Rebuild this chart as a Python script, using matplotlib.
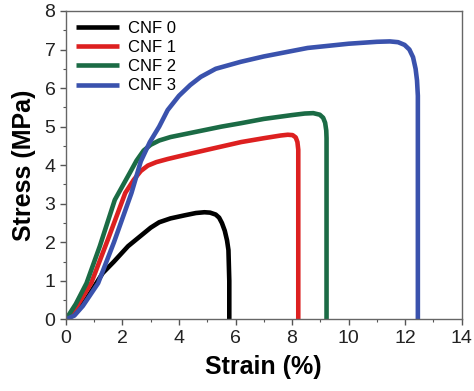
import matplotlib
matplotlib.use('Agg')
import matplotlib.pyplot as plt
from matplotlib.ticker import MultipleLocator

# Stress-strain curves
cnf0_strain = [0, 0.3, 0.7, 1.0, 1.3, 1.7, 2.2, 2.7, 3.0, 3.3, 3.7, 4.2, 4.6, 4.9, 5.1, 5.3, 5.42, 5.52, 5.62, 5.7, 5.75, 5.78, 5.78]
cnf0_stress = [0, 0.15, 0.5, 0.85, 1.2, 1.5, 1.9, 2.2, 2.38, 2.52, 2.62, 2.7, 2.76, 2.78, 2.77, 2.72, 2.64, 2.5, 2.3, 2.05, 1.8, 1.0, 0]

cnf1_strain = [0, 0.4, 0.9, 1.5, 2.1, 2.4, 2.65, 2.9, 3.2, 3.6, 4.0, 5.0, 6.2, 7.0, 7.6, 7.85, 8.02, 8.13, 8.19, 8.22, 8.22]
cnf1_stress = [0, 0.35, 0.95, 2.1, 3.28, 3.62, 3.85, 3.99, 4.08, 4.16, 4.23, 4.4, 4.6, 4.7, 4.77, 4.79, 4.78, 4.72, 4.6, 4.4, 0]

cnf2_strain = [0, 0.35, 0.73, 1.2, 1.73, 2.26, 2.5, 2.75, 3.0, 3.3, 3.7, 4.5, 5.5, 6.2, 7.0, 8.0, 8.45, 8.75, 8.98, 9.1, 9.17, 9.21, 9.22, 9.22]
cnf2_stress = [0, 0.4, 0.94, 1.9, 3.1, 3.8, 4.12, 4.38, 4.53, 4.64, 4.73, 4.85, 5.0, 5.09, 5.2, 5.3, 5.34, 5.35, 5.31, 5.23, 5.1, 4.9, 4.7, 0]

cnf3_strain = [0, 0.3, 0.6, 1.14, 1.7, 2.32, 2.65, 2.97, 3.3, 3.6, 4.0, 4.4, 4.77, 5.3, 6.18, 7.0, 8.55, 10.0, 11.0, 11.46, 11.75, 11.98, 12.15, 12.28, 12.37, 12.42, 12.45, 12.45]
cnf3_stress = [0, 0.1, 0.35, 0.94, 2.0, 3.28, 4.1, 4.6, 5.0, 5.43, 5.8, 6.08, 6.29, 6.5, 6.68, 6.82, 7.04, 7.15, 7.2, 7.21, 7.19, 7.12, 7.0, 6.8, 6.5, 6.2, 5.8, 0]

labels = ['CNF 0', 'CNF 1', 'CNF 2', 'CNF 3']
colors = ['#000000', '#dd2020', '#1b6b45', '#3a52ad']

plt.rcParams['font.family'] = ['Liberation Sans', 'DejaVu Sans']

fig, ax = plt.subplots(figsize=(4.74, 3.91), dpi=100)
fig.subplots_adjust(left=0.139, right=0.974, bottom=0.183, top=0.972)

curves = [(cnf0_strain, cnf0_stress), (cnf1_strain, cnf1_stress),
          (cnf2_strain, cnf2_stress), (cnf3_strain, cnf3_stress)]
for (x, y), lab, c in zip(curves, labels, colors):
    ax.plot(x, y, color=c, lw=3.3, label=lab, solid_joinstyle='round', solid_capstyle='butt')

ax.set_xlim(0, 14)
ax.set_ylim(0, 8)
ax.xaxis.set_major_locator(MultipleLocator(2))
ax.xaxis.set_minor_locator(MultipleLocator(1))
ax.yaxis.set_major_locator(MultipleLocator(1))
ax.yaxis.set_minor_locator(MultipleLocator(0.5))
ax.tick_params(which='major', direction='out', length=4, width=1, labelsize=14, colors='#555555', labelcolor='#222222')
ax.tick_params(which='minor', direction='out', length=2.5, width=0.8, colors='#555555')
for s in ax.spines.values():
    s.set_color('#666666')
    s.set_linewidth(1)

ax.set_xlabel('Strain (%)', fontsize=18, fontweight='bold', labelpad=6)
ax.set_ylabel('Stress (MPa)', fontsize=18, fontweight='bold', labelpad=6)

ax.legend(loc='upper left', frameon=False, fontsize=12, handlelength=2.6,
          handletextpad=0.5, labelspacing=0.25, borderaxespad=0.2)

plt.savefig('out.png', dpi=100)
